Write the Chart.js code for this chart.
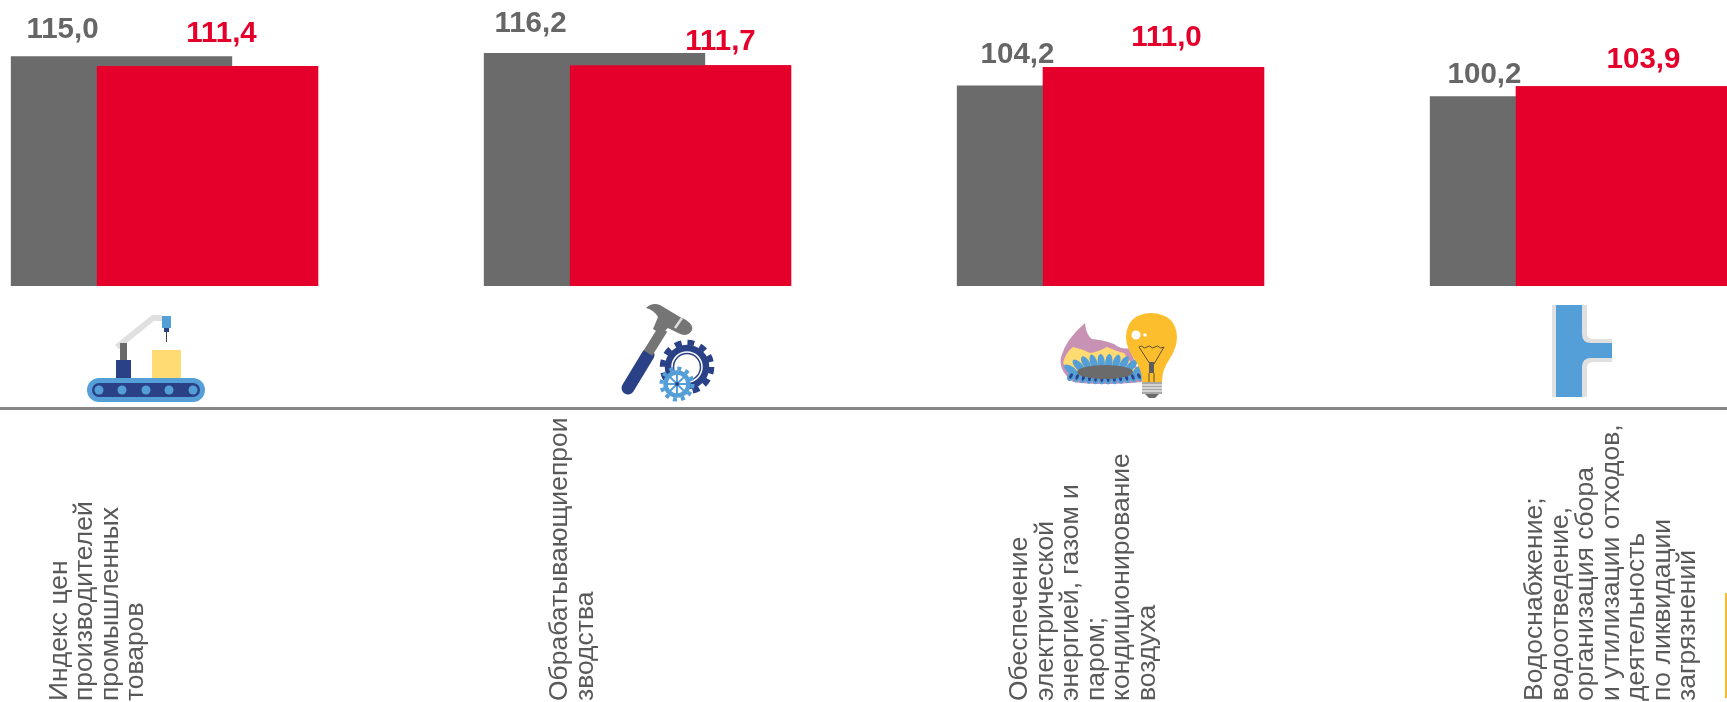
<!DOCTYPE html>
<html lang="ru">
<head>
<meta charset="utf-8">
<title>Индексы цен производителей</title>
<script src="https://cdn.jsdelivr.net/npm/chart.js@4"></script>
<style>
  html, body { margin: 0; padding: 0; background: #fff; overflow: hidden; }
  #page { position: relative; width: 1727px; height: 702px; overflow: hidden; }
  #myChart { position: absolute; left: -72px; top: 0; }
  #icons { position: absolute; left: 0; top: 0; }
  #edge { position: absolute; left: 1725px; top: 593px; width: 2px; height: 105px; background: #fdb92e; }
</style>
</head>
<body>
<div id="page">
  <canvas id="myChart" width="1892" height="702"></canvas>
  <svg id="icons" width="1727" height="702" viewBox="0 0 1727 702">
    <!-- conveyor -->
    <path d="M117 347 L153 318 L162 318" fill="none" stroke="#e0e0e0" stroke-width="6"/>
    <rect x="120" y="343" width="7" height="18" fill="#6b6b6b"/>
    <rect x="116" y="360" width="15" height="19" fill="#2a4188"/>
    <rect x="152" y="350" width="29" height="29" fill="#ffdb72"/>
    <rect x="162" y="316" width="9" height="12" fill="#559fd8"/>
    <rect x="164" y="328" width="5" height="4" fill="#2a4188"/>
    <line x1="166.5" y1="332" x2="166.5" y2="342" stroke="#444" stroke-width="1"/>
    <rect x="87" y="378" width="118" height="24" rx="12" fill="#559fd8"/>
    <rect x="92" y="383" width="108" height="14" rx="7" fill="#2a4188"/>
    <circle cx="99" cy="390" r="4.5" fill="#559fd8"/>
    <circle cx="122" cy="390" r="4.5" fill="#559fd8"/>
    <circle cx="146" cy="390" r="4.5" fill="#559fd8"/>
    <circle cx="169" cy="390" r="4.5" fill="#559fd8"/>
    <circle cx="193" cy="390" r="4.5" fill="#559fd8"/>
    <!-- hammer and gears -->
    <line x1="628" y1="388" x2="648" y2="355" stroke="#2a4188" stroke-width="13" stroke-linecap="round"/>
    <line x1="648" y1="353" x2="663" y2="329" stroke="#757575" stroke-width="10"/>
    <path d="M646 308 Q652 302 660 305 L680 317 Q694 323 692 330 Q688 338 678 333 L668 328 L661 334 L653 329 L658 317 Q654 310 646 308 Z" fill="#757575"/>
    <line x1="675" y1="328" x2="682" y2="318" stroke="#dcdcdc" stroke-width="2.5"/>
    <circle cx="687" cy="367" r="17.5" fill="none" stroke="#2a4188" stroke-width="9.5"/>
    <circle cx="687" cy="367" r="24.5" fill="none" stroke="#2a4188" stroke-width="5.5" stroke-dasharray="6.8 6"/>
    <circle cx="687" cy="367" r="15" fill="none" stroke="#fff" stroke-width="1.5"/>
    <circle cx="677" cy="384" r="11.5" fill="#fff" stroke="#559fd8" stroke-width="4.5"/>
    <circle cx="677" cy="384" r="15.5" fill="none" stroke="#559fd8" stroke-width="4" stroke-dasharray="4 4.1"/>
    <path d="M677 373 V395 M666 384 H688 M669 376 L685 392 M685 376 L669 392" stroke="#559fd8" stroke-width="2"/>
    <circle cx="677" cy="384" r="2" fill="#2a4188"/>
    <!-- gas burner and lamp -->
    <path d="M1085 323 Q1086 335 1092 339 Q1104 340 1114 344 Q1122 350 1130 348 L1142 382 Q1100 386 1073 382 Q1058 370 1061 357 Q1066 339 1085 323 Z" fill="#c792b4"/>
    <path d="M1063 363 Q1066 352 1073 347 Q1082 349 1090 353 Q1098 352 1107 347 Q1116 351 1124 353 L1142 378 L1075 378 Z" fill="#ffdb72"/>
    <g id="petals"></g>
    <ellipse cx="1105" cy="372" rx="28" ry="7" fill="#6b6b6b"/>
    <path d="M1142 382 Q1142 370 1135 360 Q1126 348 1126 337 Q1127 314 1151 313 Q1176 314 1177 337 Q1177 348 1169 360 Q1162 370 1162 382 Z" fill="#fdbe2e"/>
    <path d="M1139 347 L1150 364 M1164 347 L1154 364 M1149 373 V382 M1154 373 V382" fill="none" stroke="#5c5030" stroke-width="1"/>
    <path d="M1139 347 q3 -2 4 0 t4 0 t4 0 t4 0 t4 0 t5 0" fill="none" stroke="#5c5030" stroke-width="1"/>
    <rect x="1149" y="362" width="5" height="11" fill="#5c5c5c"/>
    <circle cx="1136" cy="335" r="4.5" fill="#fff"/>
    <circle cx="1145" cy="335" r="1.8" fill="#fff"/>
    <rect x="1142" y="382" width="20" height="12" fill="#a8a8a8"/>
    <path d="M1142 385 H1162 M1142 388 H1162 M1142 391 H1162" stroke="#fff" stroke-width="1"/>
    <path d="M1145 394 H1159 L1155 398 H1149 Z" fill="#6b6b6b"/>
    <!-- water pipe -->
    <path d="M1552 305 H1587 V333 Q1587 339 1593 339 H1612 V362 H1593 Q1587 362 1587 368 V397 H1552 Z" fill="#e0e0e0"/>
    <path d="M1556 305 H1582 V334 Q1582 343 1591 343 H1612 V358 H1591 Q1582 358 1582 367 V397 H1556 Z" fill="#559fd8"/>
  </svg>
  <div id="edge"></div>
</div>
<script>
var categories = [
  ["Индекс цен", "производителей", "промышленных", "товаров"],
  ["Обрабатывающиепрои", "зводства"],
  ["Обеспечение", "электрической", "энергией, газом и", "паром;", "кондиционирование", "воздуха"],
  ["Водоснабжение;", "водоотведение,", "организация сбора", "и утилизации отходов,", "деятельность", "по ликвидации", "загрязнений"],
];
var seriesGray = [115.0, 116.2, 104.2, 100.2];
var seriesRed = [111.4, 111.7, 111.0, 103.9];

// hand placed labels in the original slide, offsets from the bar top centre
var grayLabelDx = [-59, -64, -50, -56];
var grayLabelDy = [-26, -29, -31, -21];
var redLabelDx = [14, 40, 13, 17];
var redLabelDy = [-32, -23, -29, -26];
var categoryDx = [-105, -77.5, -90.5, -48.5];

var GRAY = "#6b6b6b";
var RED = "#e4002b";

function formatValue(v) {
  return v.toFixed(1).replace(".", ",");
}

// burner flames for the gas icon
var petals = document.getElementById("petals");
function petal(cx, cy, rx, ry, angle, fill) {
  var el = document.createElementNS("http://www.w3.org/2000/svg", "ellipse");
  el.setAttribute("cx", cx);
  el.setAttribute("cy", cy);
  el.setAttribute("rx", rx);
  el.setAttribute("ry", ry);
  el.setAttribute("fill", fill);
  el.setAttribute("transform", "rotate(" + angle + " " + cx + " " + cy + ")");
  petals.appendChild(el);
}
for (var p = 0; p < 10; p++) {
  var a = -1 + (p * 2) / 9;
  petal(1105 + a * 34, 362 + Math.abs(a) * a * a * 8, 3.6, 8, a * 55, "#559fd8");
}
for (var q = 0; q < 12; q++) {
  var b = -1 + (q * 2) / 11;
  var px = 1105 + b * 34;
  var py = 379 - b * b * 3;
  petal(px, py, 3.4, 5.5, -b * 30, "#559fd8");
  petal(px, py, 1.5, 3, -b * 30, "#2a4188");
}

var overlay = {
  id: "overlay",
  afterDatasetsDraw: function (chart) {
    var ctx = chart.ctx;
    // the red series sits over the gray one although it is on the right
    chart.getDatasetMeta(1).controller.draw();

    ctx.save();
    ctx.font = "bold 29.5px 'Liberation Sans'";
    ctx.textAlign = "center";
    ctx.textBaseline = "middle";
    chart.getDatasetMeta(0).data.forEach(function (bar, i) {
      ctx.fillStyle = "#666666";
      ctx.fillText(formatValue(seriesGray[i]), bar.x + grayLabelDx[i], bar.y + grayLabelDy[i]);
    });
    chart.getDatasetMeta(1).data.forEach(function (bar, i) {
      ctx.fillStyle = RED;
      ctx.fillText(formatValue(seriesRed[i]), bar.x + redLabelDx[i], bar.y + redLabelDy[i]);
    });

    var xScale = chart.scales.x;
    ctx.font = "26.5px 'Liberation Sans'";
    ctx.fillStyle = "#595959";
    ctx.textAlign = "left";
    categories.forEach(function (lines, i) {
      var x = xScale.getPixelForTick(i) + categoryDx[i];
      lines.forEach(function (line, j) {
        ctx.save();
        ctx.translate(x + j * 25.5, 701);
        ctx.rotate(-Math.PI / 2);
        ctx.fillText(line, 0, 0);
        ctx.restore();
      });
    });
    ctx.restore();
  },
};

new Chart(document.getElementById("myChart"), {
  type: "bar",
  data: {
    labels: categories,
    datasets: [
      { label: "gray", data: seriesGray, backgroundColor: GRAY, base: 30 },
      { label: "red", data: seriesRed, backgroundColor: RED, base: 30 },
    ],
  },
  options: {
    responsive: false,
    animation: false,
    categoryPercentage: 0.3636,
    barPercentage: 2.574,
    layout: { padding: { bottom: 286 } },
    plugins: { legend: { display: false }, tooltip: { enabled: false } },
    scales: {
      x: {
        grid: { display: false },
        border: { display: true, color: "#878787", width: 3 },
        ticks: { display: false },
      },
      y: {
        display: false,
        min: -15.1,
        max: 135.8,
      },
    },
  },
  plugins: [overlay],
});
</script>
</body>
</html>
